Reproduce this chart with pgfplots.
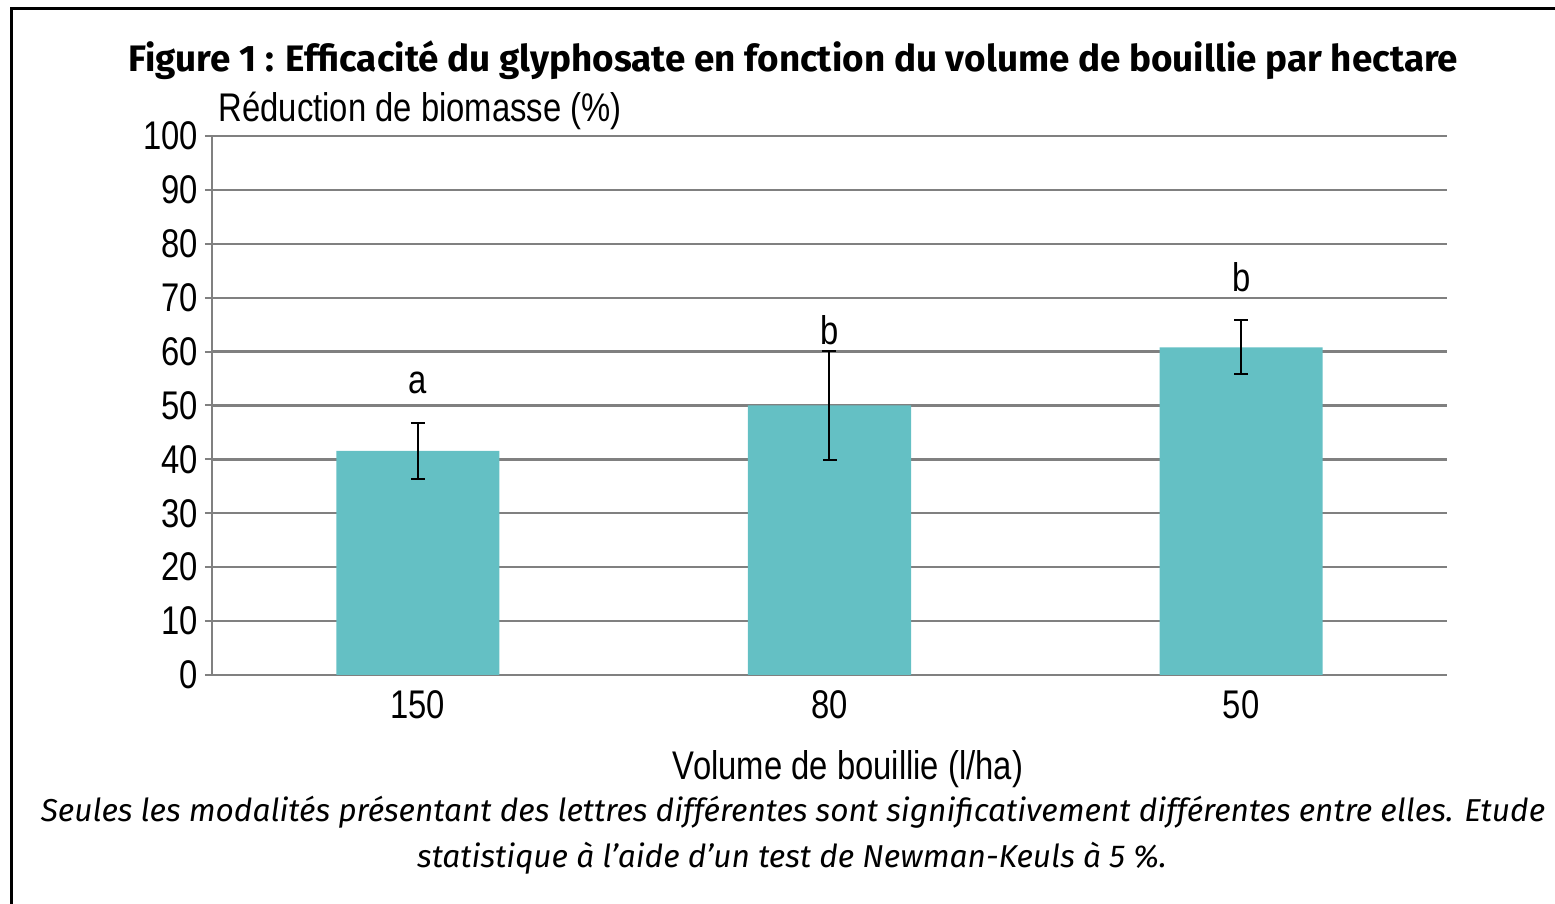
\documentclass[border=0pt]{standalone}
\usepackage{pgfplots}
\pgfplotsset{compat=1.18}
\usepackage{fontspec}
\setmainfont{Liberation Sans}
\newfontfamily\narrowfont[FakeStretch=0.82]{Liberation Sans}
\newfontfamily\titlefont{Fira Sans}
\definecolor{barcol}{RGB}{100,192,196}
\definecolor{gridcol}{RGB}{128,128,128}
\begin{document}
\begin{tikzpicture}[x=1pt,y=1pt]
\useasboundingbox (0,0) rectangle (466.5,270.9);
\draw[line width=0.9pt] (3.3,-5) -- (3.3,268.2) -- (470,268.2);
\begin{axis}[
  at={(63.6pt,68.4pt)}, anchor=south west,
  scale only axis, width=370.5pt, height=161.7pt,
  xmin=-0.5, xmax=2.5, ymin=0, ymax=100,
  ytick={0,10,...,100},
  xtick={0,1,2}, xticklabels={150,80,50},
  major x tick style={draw=none},
  extra x ticks={-0.5,0.5,1.5,2.5}, extra x tick labels={},
  extra x tick style={major tick length=2.4pt, tick align=outside, grid=none, tick style={gridcol, line width=0.6pt}},
  axis lines=left, axis line style={-, gridcol, line width=0.7pt},
  ymajorgrids, major grid style={gridcol, line width=0.7pt},
  y tick style={gridcol, line width=0.6pt}, tick align=outside, major tick length=2.1pt,
  ticklabel style={font=\narrowfont\fontsize{12}{14}\selectfont, text=black},
  yticklabel style={xshift=1.4pt},
  xticklabel style={yshift=0.9pt},
  /pgf/number format/assume math mode=true,
]
\addplot[ybar, bar width=0.396, fill=barcol, draw=none,
  error bars/.cd, y dir=both, y explicit,
  error bar style={black, line width=0.6pt},
  error mark options={rotate=90, mark size=2.1pt, black, line width=0.6pt}]
  coordinates {(0,41.6) +- (0,5.2) (1,50) +- (0,10.1) (2,60.8) +- (0,5)};
\addplot[draw=none, mark=none, nodes near coords, point meta=explicit symbolic,
  nodes near coords style={anchor=center, font=\narrowfont\fontsize{12}{14}\selectfont, text=black}]
  coordinates {(0,54.2)[a] (1,64)[b] (2,73.8)[b]};
\end{axis}
\node[font=\titlefont\bfseries\fontsize{11.05}{13}\selectfont] at (238,252.9) {Figure 1 : Efficacité du glyphosate en fonction du volume de bouillie par hectare};
\node[anchor=west, inner sep=0pt, font=\narrowfont\fontsize{12}{14}\selectfont] at (65.4,237.6) {Réduction de biomasse (\%)};
\node[font=\narrowfont\fontsize{12}{14}\selectfont] at (254.4,40.2) {Volume de bouillie (l/ha)};
\node[font=\titlefont\itshape\fontsize{9.5}{11}\selectfont] at (237.9,27.3) {Seules les modalités présentant des lettres différentes sont significativement différentes entre elles. Etude};
\node[font=\titlefont\itshape\fontsize{9.5}{11}\selectfont] at (237.6,13.5) {statistique à l’aide d’un test de Newman-Keuls à 5 \%.};
\end{tikzpicture}
\end{document}
